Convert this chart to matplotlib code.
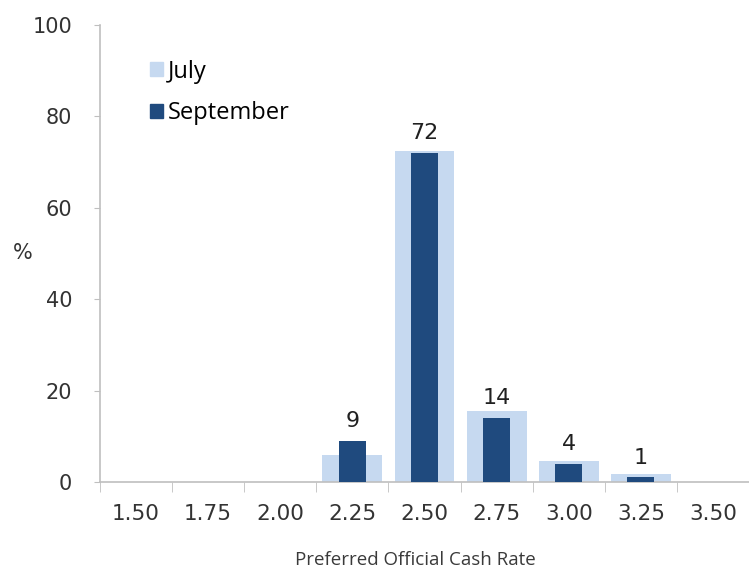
import matplotlib
matplotlib.use("Agg")
import matplotlib.pyplot as plt
from matplotlib.patches import Patch

categories = ["1.50", "1.75", "2.00", "2.25", "2.50", "2.75", "3.00", "3.25", "3.50"]
july = [0, 0, 0, 6, 72.5, 15.5, 4.5, 1.7, 0]
september = [0, 0, 0, 9, 72, 14, 4, 1, 0]
sept_labels = {3: "9", 4: "72", 5: "14", 6: "4", 7: "1"}

JULY_C = "#c6d9f0"
SEPT_C = "#1f4a7e"
AXIS_C = "#bfbfbf"
TEXT_C = "#333333"

fig = plt.figure(figsize=(7.49, 5.69), dpi=100)
ax = fig.add_axes([0.1335, 0.153, 0.8665, 0.803])

x = list(range(len(categories)))
ax.bar(x, july, width=0.83, color=JULY_C, zorder=2)
ax.bar(x, september, width=0.37, color=SEPT_C, zorder=3)

for i, txt in sept_labels.items():
    ax.annotate(txt, (i, september[i]), xytext=(0, 7), textcoords="offset points",
                ha="center", va="bottom", fontsize=16, color="#202020", zorder=4)

ax.set_xlim(-0.5, 8.5)
ax.set_ylim(0, 100)
ax.set_yticks([0, 20, 40, 60, 80, 100])
ax.set_xticks(x)
ax.set_xticklabels(categories)
ax.set_xticks([i + 0.5 for i in range(-1, 8)], minor=True)
ax.tick_params(axis="x", which="major", length=0, pad=16, labelsize=15.5, labelcolor=TEXT_C)
ax.tick_params(axis="x", which="minor", length=7, color=AXIS_C, direction="out")
ax.tick_params(axis="y", length=4, color=AXIS_C, pad=16, labelsize=15, labelcolor=TEXT_C)

for s in ("top", "right"):
    ax.spines[s].set_visible(False)
for s in ("left", "bottom"):
    ax.spines[s].set_color(AXIS_C)
    ax.spines[s].set_linewidth(1.2)

fig.text(0.03, 0.555, "%", fontsize=15, color=TEXT_C, ha="center", va="center")
fig.text(0.555, 0.0158, "Preferred Official Cash Rate", fontsize=13.5, color="#3a3a3a",
         ha="center", va="center", family="Open Sans")

handles = [Patch(color=JULY_C, label="July"), Patch(color=SEPT_C, label="September")]
ax.legend(handles=handles, loc="upper left", bbox_to_anchor=(0.062, 0.945),
          frameon=False, handlelength=0.55, handleheight=0.55,
          handletextpad=0.2, labelspacing=0.75, borderaxespad=0,
          prop={"family": "Open Sans", "size": 17})

fig.savefig("out.png", dpi=100)
